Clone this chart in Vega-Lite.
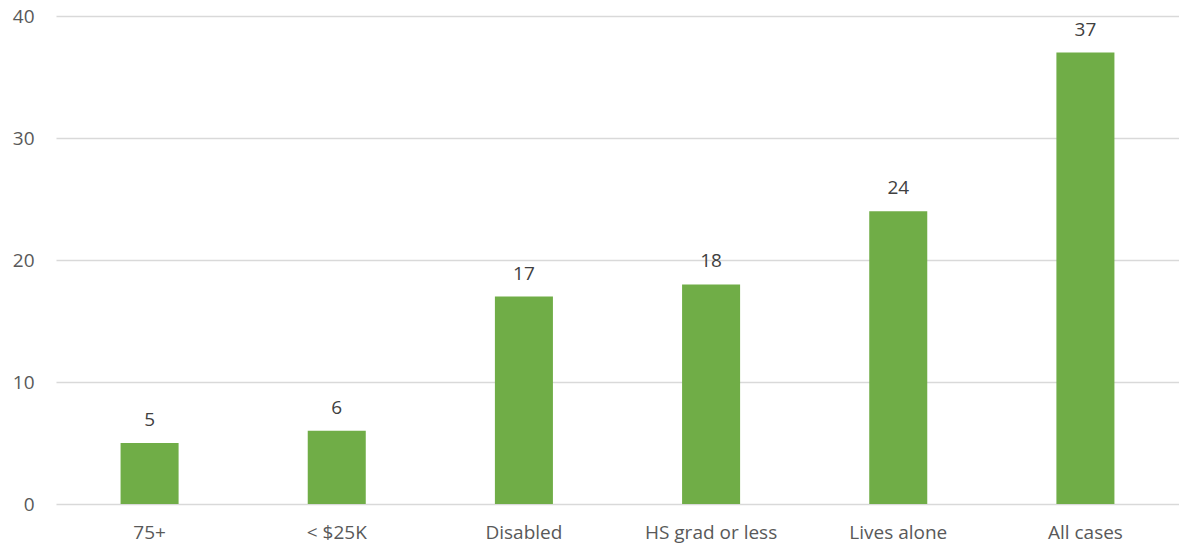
{
  "$schema": "https://vega.github.io/schema/vega-lite/v6.json",
  "autosize": {"type": "none"},
  "padding": {"left": 56, "top": 16, "right": 0, "bottom": 44},
  "width": 1123,
  "height": 488,
  "background": "white",
  "config": {"view": {"stroke": null}, "font": "Open Sans"},
  "data": {"values": [
    {"group": "75+", "value": 5},
    {"group": "< $25K", "value": 6},
    {"group": "Disabled", "value": 17},
    {"group": "HS grad or less", "value": 18},
    {"group": "Lives alone", "value": 24},
    {"group": "All cases", "value": 37}
  ]},
  "encoding": {
    "x": {"field": "group", "type": "nominal", "sort": null,
      "scale": {"paddingInner": 0.69, "paddingOuter": 0.345},
      "axis": {"title": null, "labelAngle": 0, "domain": false, "ticks": false, "labelPadding": 19, "labelFontSize": 19, "labelColor": "#595959", "labelFont": "Open Sans"}},
    "y": {"field": "value", "type": "quantitative",
      "scale": {"domain": [0, 40]},
      "axis": {"title": null, "values": [0, 10, 20, 30, 40], "domain": false, "ticks": false, "labelPadding": 22, "labelFontSize": 19, "labelColor": "#595959", "gridColor": "#D9D9D9", "gridWidth": 1.5, "labelFont": "Open Sans"}}
  },
  "layer": [
    {"mark": {"type": "bar", "color": "#70AD47"}},
    {"mark": {"type": "text", "baseline": "bottom", "dy": -13, "fontSize": 19, "color": "#404040", "font": "Open Sans"},
      "encoding": {"text": {"field": "value", "type": "quantitative"}}}
  ]
}
